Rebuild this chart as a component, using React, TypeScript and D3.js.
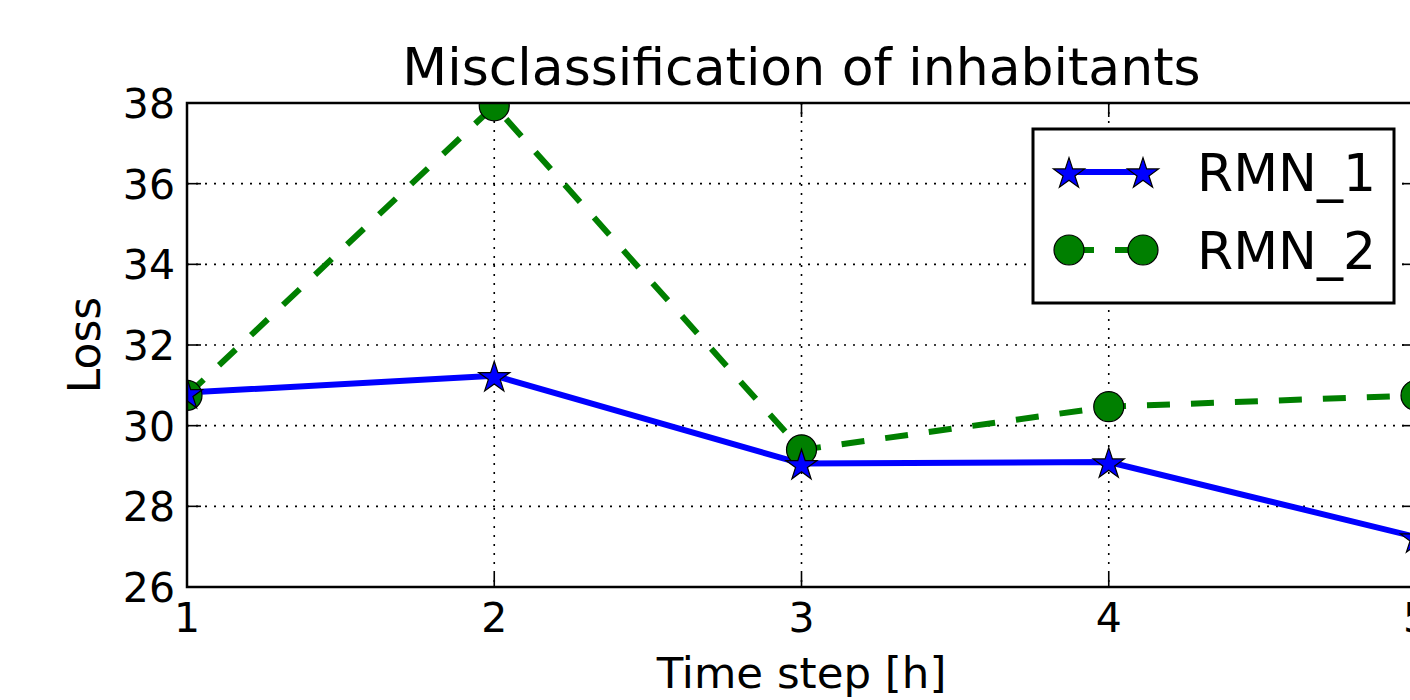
import React, { useEffect, useRef } from 'react'
import * as d3 from 'd3'

// time steps and loss values
const steps = [1, 2, 3, 4, 5]
const rmn1 = [30.82, 31.24, 29.06, 29.1, 27.24]
const rmn2 = [30.75, 37.93, 29.4, 30.47, 30.75]
const yTicks = [26, 28, 30, 32, 34, 36, 38]
const xTicks = [1, 2, 3, 4, 5]
const seriesNames = ['RMN_1', 'RMN_2']

const FONT = 'DejaVu Sans, sans-serif'

export default function App() {
  const ref = useRef<SVGSVGElement>(null)

  useEffect(() => {
    const width = 1410
    const height = 700
    const left = 187
    const right = 1416
    const top = 103
    const bottom = 587

    const svg = d3.select(ref.current)
    svg.selectAll('*').remove()

    const x = d3.scaleLinear().domain([1, 5]).range([left, right])
    const y = d3.scaleLinear().domain([26, 38]).range([bottom, top])

    svg.append('defs').append('clipPath').attr('id', 'plot')
      .append('rect')
      .attr('x', left).attr('y', top)
      .attr('width', right - left).attr('height', bottom - top)

    // grid
    const grid = svg.append('g')
      .attr('stroke', '#000')
      .attr('stroke-width', 1.6)
      .attr('stroke-dasharray', '2,7')
    grid.selectAll('.gy')
      .data(yTicks)
      .enter()
      .append('line')
      .attr('x1', left).attr('x2', right)
      .attr('y1', d => y(d)).attr('y2', d => y(d))
    grid.selectAll('.gx')
      .data(xTicks)
      .enter()
      .append('line')
      .attr('y1', top).attr('y2', bottom)
      .attr('x1', d => x(d)).attr('x2', d => x(d))

    // tick marks, inside on all four sides
    const tl = 14
    const ticks = svg.append('g').attr('stroke', '#000').attr('stroke-width', 1.6)
    yTicks.forEach(t => {
      ticks.append('line').attr('x1', left).attr('x2', left + tl).attr('y1', y(t)).attr('y2', y(t))
      ticks.append('line').attr('x1', right).attr('x2', right - tl).attr('y1', y(t)).attr('y2', y(t))
    })
    xTicks.forEach(t => {
      ticks.append('line').attr('y1', bottom).attr('y2', bottom - tl).attr('x1', x(t)).attr('x2', x(t))
      ticks.append('line').attr('y1', top).attr('y2', top + tl).attr('x1', x(t)).attr('x2', x(t))
    })

    const plot = svg.append('g').attr('clip-path', 'url(#plot)')
    const line = d3.line<number>()
      .x((d, i) => x(steps[i]))
      .y(d => y(d))

    plot.append('path')
      .datum(rmn1)
      .attr('d', line)
      .attr('fill', 'none')
      .attr('stroke', '#0000ff')
      .attr('stroke-width', 6)

    plot.append('path')
      .datum(rmn2)
      .attr('d', line)
      .attr('fill', 'none')
      .attr('stroke', '#007f00')
      .attr('stroke-width', 6)
      .attr('stroke-dasharray', '23,21')

    const star = d3.symbol().type(d3.symbolStar).size(300)

    plot.selectAll('.c2')
      .data(rmn2)
      .enter()
      .append('circle')
      .attr('cx', (d, i) => x(steps[i]))
      .attr('cy', d => y(d))
      .attr('r', 15)
      .attr('fill', '#007f00')
      .attr('stroke', '#000')
      .attr('stroke-width', 1.2)

    plot.selectAll('.s1')
      .data(rmn1)
      .enter()
      .append('path')
      .attr('d', star)
      .attr('transform', (d, i) => 'translate(' + x(steps[i]) + ',' + (y(d) + 2) + ')')
      .attr('fill', '#0000ff')
      .attr('stroke', '#000')
      .attr('stroke-width', 1.2)

    // frame
    svg.append('rect')
      .attr('x', left).attr('y', top)
      .attr('width', right - left).attr('height', bottom - top)
      .attr('fill', 'none')
      .attr('stroke', '#000')
      .attr('stroke-width', 2.5)

    // tick labels
    svg.selectAll('.yl')
      .data(yTicks)
      .enter()
      .append('text')
      .attr('x', left - 12)
      .attr('y', d => y(d) + 15)
      .attr('text-anchor', 'end')
      .attr('font-family', FONT)
      .attr('font-size', 41)
      .attr('fill', '#000')
      .text(d => d)

    svg.selectAll('.xl')
      .data(xTicks)
      .enter()
      .append('text')
      .attr('x', d => x(d))
      .attr('y', bottom + 45)
      .attr('text-anchor', 'middle')
      .attr('font-family', FONT)
      .attr('font-size', 41)
      .attr('fill', '#000')
      .text(d => d)

    svg.append('text')
      .attr('x', (left + right) / 2)
      .attr('y', 85)
      .attr('text-anchor', 'middle')
      .attr('font-family', FONT)
      .attr('font-size', 52)
      .text('Misclassification of inhabitants')

    svg.append('text')
      .attr('x', (left + right) / 2)
      .attr('y', 688)
      .attr('text-anchor', 'middle')
      .attr('font-family', FONT)
      .attr('font-size', 43.5)
      .text('Time step [h]')

    svg.append('text')
      .attr('transform', 'translate(100,' + (top + bottom) / 2 + ') rotate(-90)')
      .attr('text-anchor', 'middle')
      .attr('font-family', FONT)
      .attr('font-size', 44)
      .text('Loss')

    // legend
    const lg = svg.append('g')
    lg.append('rect')
      .attr('x', 1033).attr('y', 129)
      .attr('width', 361).attr('height', 174)
      .attr('fill', '#fff')
      .attr('stroke', '#000')
      .attr('stroke-width', 3)

    const rows = [172, 250]
    lg.append('line')
      .attr('x1', 1069).attr('x2', 1143)
      .attr('y1', rows[0]).attr('y2', rows[0])
      .attr('stroke', '#0000ff').attr('stroke-width', 6)
    lg.append('line')
      .attr('x1', 1069).attr('x2', 1143)
      .attr('y1', rows[1]).attr('y2', rows[1])
      .attr('stroke', '#007f00').attr('stroke-width', 6)
      .attr('stroke-dasharray', '23,21')
      .attr('stroke-dashoffset', -2)
    ;[1069, 1143].forEach(cx => {
      lg.append('path')
        .attr('d', star)
        .attr('transform', 'translate(' + cx + ',' + (rows[0] + 2) + ')')
        .attr('fill', '#0000ff').attr('stroke', '#000').attr('stroke-width', 1.2)
      lg.append('circle')
        .attr('cx', cx).attr('cy', rows[1]).attr('r', 15)
        .attr('fill', '#007f00').attr('stroke', '#000').attr('stroke-width', 1.2)
    })
    lg.selectAll('.lt')
      .data(seriesNames)
      .enter()
      .append('text')
      .attr('x', 1197)
      .attr('y', (d, i) => rows[i] + 19)
      .attr('font-family', FONT)
      .attr('font-size', 52)
      .text(d => d)

    svg.attr('width', width).attr('height', height)
  }, [])

  return (
    <svg ref={ref} width={1410} height={700}
      style={{ position: 'absolute', left: 0, top: 0, background: '#fff' }} />
  )
}
